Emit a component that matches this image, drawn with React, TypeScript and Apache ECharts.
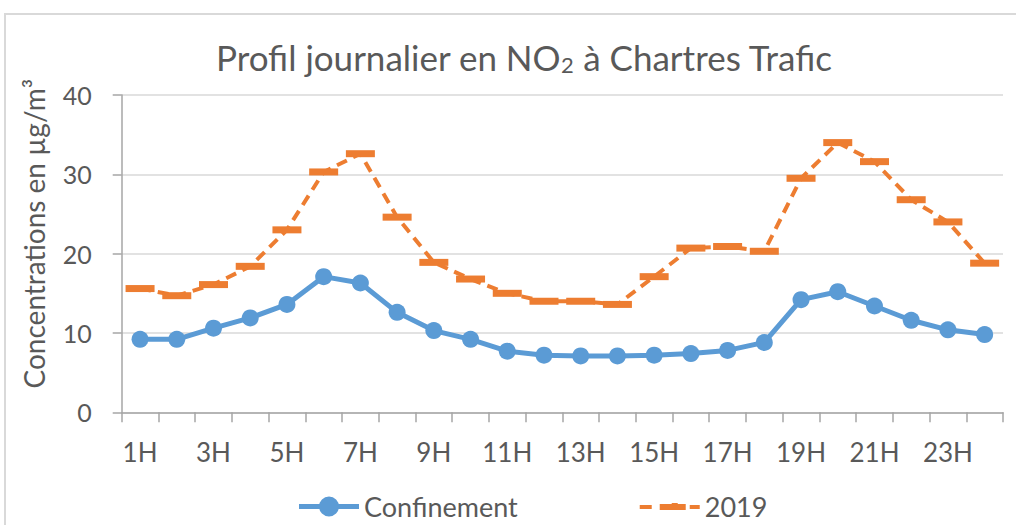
import React, { useEffect, useRef } from "react";
import * as echarts from "echarts";

const hours = ["1H","2H","3H","4H","5H","6H","7H","8H","9H","10H","11H","12H","13H","14H","15H","16H","17H","18H","19H","20H","21H","22H","23H","24H"];
const confinement = [9.2,9.2,10.6,11.9,13.6,17.1,16.3,12.6,10.3,9.2,7.7,7.2,7.1,7.1,7.2,7.4,7.8,8.8,14.2,15.2,13.4,11.6,10.4,9.8];
const y2019 = [15.6,14.7,16.1,18.4,23.0,30.3,32.6,24.6,18.9,16.8,15.0,14.0,14.0,13.6,17.1,20.7,20.9,20.3,29.5,34.0,31.6,26.8,24.0,18.8];
const yTicks = { min: 0, max: 40, interval: 10 };

const FONT = "Lato, 'Noto Sans', sans-serif";
const TXT = "#595959";

const ICON_CONF = "path://M0,7.5h60v5h-60z M20,10a10,10 0 1,1 20,0a10,10 0 1,1 -20,0z";
const ICON_2019 = "path://M0,8h12v4h-12z M20,7h12v-1h6v1h8v6h-26z M50,8h10v4h-10z";

export default function App() {
  const ref = useRef<HTMLDivElement>(null);
  useEffect(() => {
    document.body.style.margin = "0";
    const chart = echarts.init(ref.current!, null, { renderer: "svg" });
    chart.setOption({
      animation: false,
      textStyle: { fontFamily: FONT, color: TXT },
      graphic: [
        {
          type: "rect",
          shape: { x: 5, y: 14, width: 1030, height: 530 },
          style: { fill: "none", stroke: "#D9D9D9", lineWidth: 2 },
          silent: true,
        },
      ],
      title: {
        text: "Profil journalier en NO{sub|2} à Chartres Trafic",
        left: 519,
        textAlign: "center",
        top: 33,
        textStyle: {
          fontFamily: FONT,
          fontSize: 35,
          fontWeight: "normal",
          color: TXT,
          rich: {
            sub: { fontFamily: FONT, fontSize: 22, color: TXT, padding: [15, 0, 0, 0] },
          },
        },
      },
      legend: {
        left: 294,
        top: 488,
        itemGap: 122,
        itemWidth: 60,
        itemHeight: 20,
        textStyle: { fontFamily: FONT, fontSize: 27, color: TXT },
        data: [
          { name: "Confinement", icon: ICON_CONF },
          { name: "2019", icon: ICON_2019 },
        ],
      },
      grid: { left: 121.7, right: 13, top: 95, bottom: 112.7, containLabel: false },
      xAxis: {
        type: "category",
        data: hours,
        boundaryGap: true,
        axisLine: { lineStyle: { color: "#A6A6A6", width: 1.5 } },
        axisTick: { show: true, interval: 0, length: 10, lineStyle: { color: "#A6A6A6", width: 1.5 } },
        axisLabel: { interval: 1, fontFamily: FONT, fontSize: 26, color: TXT, margin: 27 },
      },
      yAxis: {
        type: "value",
        min: yTicks.min,
        max: yTicks.max,
        interval: yTicks.interval,
        name: "Concentrations en µg/m³",
        nameLocation: "middle",
        nameRotate: 90,
        nameGap: 74,
        nameTextStyle: { fontFamily: FONT, fontSize: 28, color: TXT, padding: [0, 0, 0, 40] },
        axisLine: { show: true, lineStyle: { color: "#A6A6A6", width: 1.5 } },
        axisTick: { show: true, length: 9, lineStyle: { color: "#A6A6A6", width: 1.5 } },
        axisLabel: { fontFamily: FONT, fontSize: 25, color: TXT, margin: 30 },
        splitLine: { lineStyle: { color: "#D9D9D9", width: 1.5 } },
      },
      series: [
        {
          name: "Confinement",
          type: "line",
          data: confinement,
          symbol: "circle",
          symbolSize: 17,
          itemStyle: { color: "#5B9BD5" },
          lineStyle: { color: "#5B9BD5", width: 5 },
        },
        {
          name: "2019",
          type: "line",
          data: y2019,
          symbol: "rect",
          symbolSize: [29, 7],
          itemStyle: { color: "#ED7D31" },
          lineStyle: { color: "#ED7D31", width: 4, type: [11, 7] },
        },
      ],
    });
    return () => chart.dispose();
  }, []);
  return <div ref={ref} style={{ width: 1016, height: 525 }} />;
}
